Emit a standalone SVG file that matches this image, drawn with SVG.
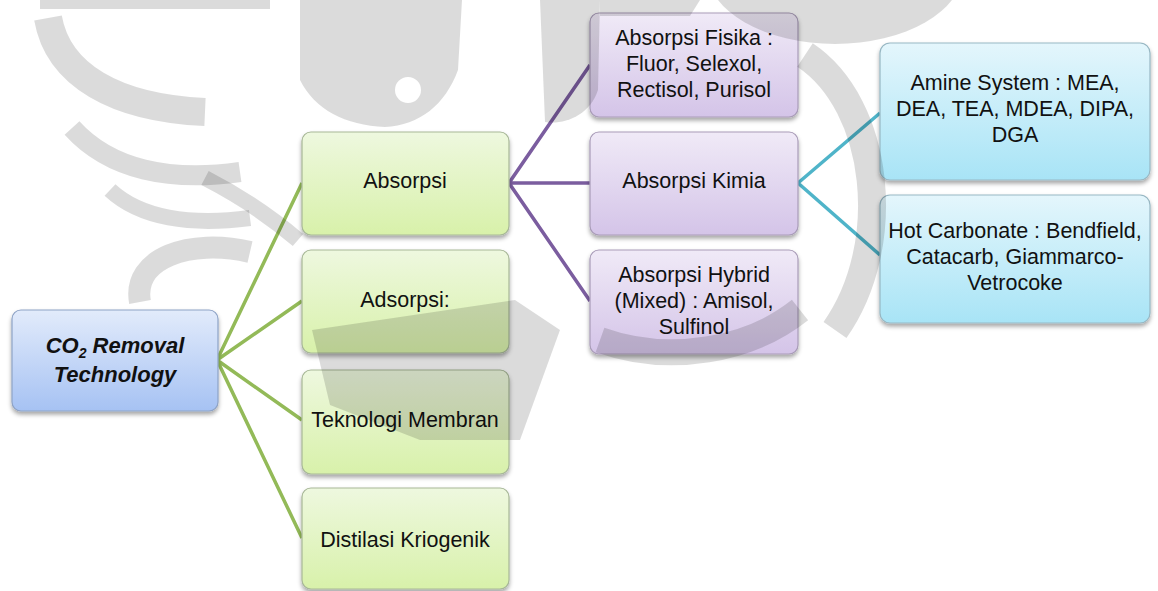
<svg xmlns="http://www.w3.org/2000/svg" width="1158" height="591" viewBox="0 0 1158 591">
<defs>
<linearGradient id="gRoot" x1="0" y1="0" x2="0" y2="1"><stop offset="0" stop-color="#e2ebfb"/><stop offset="1" stop-color="#a6c2f3"/></linearGradient>
<linearGradient id="gGreen" x1="0" y1="0" x2="0" y2="1"><stop offset="0" stop-color="#eef8df"/><stop offset="1" stop-color="#d8f1aa"/></linearGradient>
<linearGradient id="gPurple" x1="0" y1="0" x2="0" y2="1"><stop offset="0" stop-color="#f0eaf7"/><stop offset="1" stop-color="#d4c4e8"/></linearGradient>
<linearGradient id="gBlue" x1="0" y1="0" x2="0" y2="1"><stop offset="0" stop-color="#e4f6fc"/><stop offset="1" stop-color="#a8e4f6"/></linearGradient>
<filter id="sh" x="-10%" y="-10%" width="120%" height="130%"><feDropShadow dx="0" dy="3" stdDeviation="2" flood-color="#000" flood-opacity="0.35"/></filter>
</defs>
<style>
.box{stroke-width:1.2;filter:url(#sh)}
.root{fill:url(#gRoot);stroke:#8ea3c6}
.green{fill:url(#gGreen);stroke:#a7b797}
.purple{fill:url(#gPurple);stroke:#a99cb8}
.blue{fill:url(#gBlue);stroke:#97b7c3}
text{font-family:"Liberation Sans",Arial,sans-serif;font-size:21.5px;fill:#111;text-anchor:middle}
.rt{font-weight:bold;font-style:italic;font-size:22px}
.cg{stroke:#93ba58;stroke-width:3.5;fill:none}
.cp{stroke:#7b5d9f;stroke-width:3.5;fill:none}
.cb{stroke:#4fb4c9;stroke-width:3.5;fill:none}
.wm{fill:#000;fill-opacity:0.14;stroke:none}
.wms{fill:none;stroke:#000;stroke-opacity:0.14}
</style>
<rect width="1158" height="591" fill="#fff"/>
<g id="connectors">
<path class="cg" d="M217,360 L302,183 M217,360 L302,301 M217,360 L302,420 M217,360 L302,538"/>
<path class="cp" d="M509,183 L590,65 M509,183 L590,183 M509,183 L590,301"/>
<path class="cb" d="M798,183 L880,113 M798,183 L880,255"/>
</g>
<g id="root"><rect class="box root" x="12" y="310" width="206" height="101" rx="9"/>
<text class="rt" x="115" y="353">CO<tspan font-size="14" dy="5">2</tspan><tspan dy="-5"> Removal</tspan></text>
<text class="rt" x="115" y="382">Technology</text></g>
<g id="absorpsi"><rect class="box green" x="302" y="132" width="207" height="103" rx="9"/><text x="405" y="188">Absorpsi</text></g>
<g id="adsorpsi"><rect class="box green" x="302" y="250" width="207" height="103" rx="9"/><text x="405" y="307">Adsorpsi:</text></g>
<g id="membran"><rect class="box green" x="302" y="370" width="207" height="104" rx="9"/><text x="405" y="427">Teknologi Membran</text></g>
<g id="kriogenik"><rect class="box green" x="302" y="488" width="207" height="101" rx="9"/><text x="405" y="547">Distilasi Kriogenik</text></g>
<g id="fisika"><rect class="box purple" x="590" y="13" width="208" height="104" rx="9"/><text x="694" y="45">Absorpsi Fisika :</text><text x="694" y="71">Fluor, Selexol,</text><text x="694" y="97">Rectisol, Purisol</text></g>
<g id="kimia"><rect class="box purple" x="590" y="132" width="208" height="103" rx="9"/><text x="694" y="188">Absorpsi Kimia</text></g>
<g id="hybrid"><rect class="box purple" x="590" y="250" width="208" height="104" rx="9"/><text x="694" y="282">Absorpsi Hybrid</text><text x="694" y="308">(Mixed) : Amisol,</text><text x="694" y="334">Sulfinol</text></g>
<g id="amine"><rect class="box blue" x="880" y="43" width="270" height="137" rx="10"/><text x="1015" y="90">Amine System : MEA,</text><text x="1015" y="116">DEA, TEA, MDEA, DIPA,</text><text x="1015" y="142">DGA</text></g>
<g id="hotcarbonate"><rect class="box blue" x="880" y="195" width="270" height="128" rx="10"/><text x="1015" y="238">Hot Carbonate : Bendfield,</text><text x="1015" y="264">Catacarb, Giammarco-</text><text x="1015" y="290">Vetrocoke</text></g>
<g id="watermark">
<path class="wms" stroke-width="10" d="M40,4 L270,4"/>
<path class="wms" stroke-width="28" d="M48,18 C58,75 115,108 205,112"/>
<path class="wms" stroke-width="20" d="M72,128 C110,170 170,182 240,172"/>
<path class="wms" stroke-width="16" d="M110,190 C140,218 190,226 250,218"/>
<path class="wms" stroke-width="16" d="M205,178 C240,196 270,216 298,240"/>
<path class="wm" fill-rule="evenodd" d="M300,0 L462,0 L458,70 C445,105 420,125 385,127 C345,125 315,110 300,80 Z M408,90 m-13,0 a13,13 0 1,0 26,0 a13,13 0 1,0 -26,0 Z"/>
<path class="wm" d="M540,0 L600,0 L598,90 C590,115 565,125 545,122 Z"/>
<path class="wm" d="M600,0 L700,0 L690,16 L600,16 Z"/>
<ellipse class="wm" cx="835" cy="-30" rx="128" ry="74"/>
<path class="wms" stroke-width="28" d="M805,55 C880,105 895,245 835,330"/>
<path class="wms" stroke-width="22" d="M140,302 C132,258 190,238 250,252"/>
<path class="wm" d="M312,330 L515,300 L560,330 L520,440 L420,440 L330,405 Z"/>
<path class="wms" stroke-width="26" d="M600,340 C670,365 750,350 800,310"/>
</g>
</svg>
